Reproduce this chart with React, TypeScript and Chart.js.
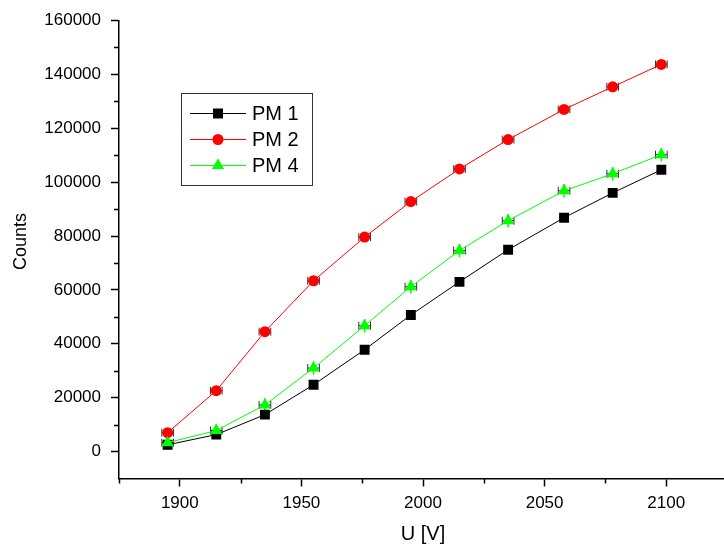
import React, { useEffect, useRef } from "react";
import { Chart, registerables } from "chart.js";

Chart.register(...registerables);

// ---- data ----
const U_VALUES = [1895, 1915, 1935, 1955, 1976, 1995, 2015, 2035, 2058, 2078, 2098];
const PM1 = [2500, 6300, 13700, 24800, 37800, 50700, 63000, 74900, 86800, 96000, 104600];
const PM2 = [7000, 22600, 44500, 63400, 79600, 92800, 104900, 115800, 127000, 135400, 143700];
const PM4 = [3300, 7800, 17300, 31000, 46700, 61200, 74600, 85700, 96800, 103100, 110200];
const X_ERR = 2.4;
const PM4_Y_ERR = 2500;

const X_TICKS = [1900, 1950, 2000, 2050, 2100];
const X_MINOR = [1875, 1925, 1975, 2025, 2075, 2125];
const Y_TICKS = [0, 20000, 40000, 60000, 80000, 100000, 120000, 140000, 160000];
const Y_MINOR = [10000, 30000, 50000, 70000, 90000, 110000, 130000, 150000];

const X_TITLE = "U [V]";
const Y_TITLE = "Counts";
const SERIES_NAMES = ["PM 1", "PM 2", "PM 4"];
const SERIES_COLORS = ["#000000", "#ff0000", "#00ff00"];
const SERIES_MARKERS = ["rect", "circle", "triangle"];

const FONT = "'Liberation Sans', Arial, sans-serif";

function drawMarker(ctx: CanvasRenderingContext2D, style: string, x: number, y: number, color: string) {
  ctx.save();
  ctx.fillStyle = color;
  ctx.beginPath();
  if (style === "rect") {
    ctx.rect(x - 5, y - 5, 10, 10);
  } else if (style === "circle") {
    ctx.arc(x, y, 5.5, 0, Math.PI * 2);
  } else {
    const r = 7;
    ctx.moveTo(x, y - r);
    ctx.lineTo(x + r * 0.866, y + r * 0.5);
    ctx.lineTo(x - r * 0.866, y + r * 0.5);
    ctx.closePath();
  }
  ctx.fill();
  ctx.restore();
}

const extrasPlugin = {
  id: "extras",
  beforeDatasetsDraw(chart: any) {
    const ctx: CanvasRenderingContext2D = chart.ctx;
    const xs = chart.scales.x;
    const ys = chart.scales.y;
    ctx.save();
    const withErr = [PM2, PM4];
    withErr.forEach((arr) => {
      arr.forEach((v, i) => {
        const x0 = xs.getPixelForValue(U_VALUES[i] - X_ERR);
        const x1 = xs.getPixelForValue(U_VALUES[i] + X_ERR);
        const py = ys.getPixelForValue(v);
        ctx.strokeStyle = "#333";
        ctx.lineWidth = 1;
        ctx.beginPath();
        ctx.moveTo(x0, py);
        ctx.lineTo(x1, py);
        ctx.moveTo(x0, py - 4);
        ctx.lineTo(x0, py + 4);
        ctx.moveTo(x1, py - 4);
        ctx.lineTo(x1, py + 4);
        ctx.stroke();
      });
    });
    PM4.forEach((v, i) => {
      const px = xs.getPixelForValue(U_VALUES[i]);
      const y0 = ys.getPixelForValue(v - PM4_Y_ERR);
      const y1 = ys.getPixelForValue(v + PM4_Y_ERR);
      ctx.strokeStyle = "#00ff00";
      ctx.lineWidth = 1.5;
      ctx.beginPath();
      ctx.moveTo(px, y0);
      ctx.lineTo(px, y1);
      ctx.stroke();
    });
    ctx.restore();
  },
  afterDraw(chart: any) {
    const ctx: CanvasRenderingContext2D = chart.ctx;
    const xs = chart.scales.x;
    const ys = chart.scales.y;
    const area = chart.chartArea;
    ctx.save();
    ctx.strokeStyle = "#000";
    ctx.lineWidth = 1.5;
    ctx.beginPath();
    X_MINOR.forEach((v) => {
      const px = Math.round(xs.getPixelForValue(v)) + 0.5;
      ctx.moveTo(px, area.bottom);
      ctx.lineTo(px, area.bottom + 5);
    });
    Y_MINOR.forEach((v) => {
      const py = Math.round(ys.getPixelForValue(v)) + 0.5;
      ctx.moveTo(area.left - 5, py);
      ctx.lineTo(area.left, py);
    });
    ctx.stroke();

    ctx.save();
    ctx.translate(21, 241.5);
    ctx.rotate(-Math.PI / 2);
    ctx.fillStyle = "#000";
    ctx.font = `18px ${FONT}`;
    ctx.textAlign = "center";
    ctx.textBaseline = "middle";
    ctx.fillText(Y_TITLE, 0, 0);
    ctx.restore();

    const bx = 181, by = 93, bw = 131, bh = 92;
    ctx.fillStyle = "#fff";
    ctx.fillRect(bx, by, bw, bh);
    ctx.strokeStyle = "#333";
    ctx.lineWidth = 1;
    ctx.strokeRect(bx + 0.5, by + 0.5, bw, bh);
    const rows = [113.5, 139.5, 165.5];
    chart.data.datasets.forEach((ds: any, i: number) => {
      const ry = rows[i];
      ctx.strokeStyle = ds.borderColor;
      ctx.lineWidth = 1;
      ctx.beginPath();
      ctx.moveTo(190, ry);
      ctx.lineTo(246, ry);
      ctx.stroke();
      drawMarker(ctx, SERIES_MARKERS[i], 218, ry, ds.borderColor);
      ctx.fillStyle = "#000";
      ctx.font = `20px ${FONT}`;
      ctx.textAlign = "left";
      ctx.textBaseline = "middle";
      ctx.fillText(ds.label, 252, ry + 1);
    });
    ctx.restore();
  },
};

export default function App() {
  const ref = useRef<HTMLCanvasElement | null>(null);

  useEffect(() => {
    if (!ref.current) return;
    const series = [PM1, PM2, PM4];
    const datasets = series.map((arr, i) => ({
      label: SERIES_NAMES[i],
      data: arr.map((v, j) => ({ x: U_VALUES[j], y: v })),
      showLine: true,
      borderColor: SERIES_COLORS[i],
      backgroundColor: SERIES_COLORS[i],
      borderWidth: 1,
      pointStyle: SERIES_MARKERS[i],
      pointRadius: i === 0 ? 7 : i === 1 ? 5.5 : 7,
      pointBorderWidth: 0,
      pointBackgroundColor: SERIES_COLORS[i],
      pointBorderColor: SERIES_COLORS[i],
      order: i === 2 ? 0 : i === 1 ? 1 : 2,
      tension: 0,
    }));

    const chart = new Chart(ref.current, {
      type: "scatter",
      data: { datasets },
      plugins: [extrasPlugin],
      options: {
        responsive: false,
        animation: false,
        devicePixelRatio: 1,
        layout: { padding: { top: 20.5, right: 1, left: 0, bottom: 0 } },
        plugins: { legend: { display: false }, tooltip: { enabled: false } },
        scales: {
          x: {
            type: "linear",
            min: 1875,
            max: 2125,
            afterBuildTicks: (s: any) => {
              s.ticks = X_TICKS.map((v) => ({ value: v }));
            },
            afterFit: (s: any) => {
              s.height = 68.5;
            },
            grid: {
              display: true,
              drawOnChartArea: false,
              drawTicks: true,
              tickLength: 8,
              tickWidth: 1.5,
              tickColor: "#000",
            },
            border: { display: true, color: "#000", width: 1.5 },
            ticks: {
              color: "#000",
              font: { family: FONT, size: 17 },
              padding: 7,
              maxRotation: 0,
              callback: (v: any) => String(v),
            },
            title: {
              display: true,
              text: X_TITLE,
              color: "#000",
              font: { family: FONT, size: 20 },
              padding: { top: 0, bottom: 1 },
            },
          },
          y: {
            type: "linear",
            min: -10000,
            max: 160000,
            afterBuildTicks: (s: any) => {
              s.ticks = Y_TICKS.map((v) => ({ value: v }));
            },
            afterFit: (s: any) => {
              s.width = 119;
            },
            grid: {
              display: true,
              drawOnChartArea: false,
              drawTicks: true,
              tickLength: 8,
              tickWidth: 1.5,
              tickColor: "#000",
            },
            border: { display: true, color: "#000", width: 1.5 },
            ticks: {
              color: "#000",
              font: { family: FONT, size: 17 },
              padding: 10,
              callback: (v: any) => String(v),
            },
          },
        },
      },
    });
    return () => chart.destroy();
  }, []);

  return (
    <div style={{ position: "absolute", left: 0, top: 0, width: 724, height: 547, overflow: "hidden", background: "#fff" }}>
      <canvas ref={ref} width={734} height={547} style={{ display: "block", width: 734, height: 547 }} />
    </div>
  );
}
